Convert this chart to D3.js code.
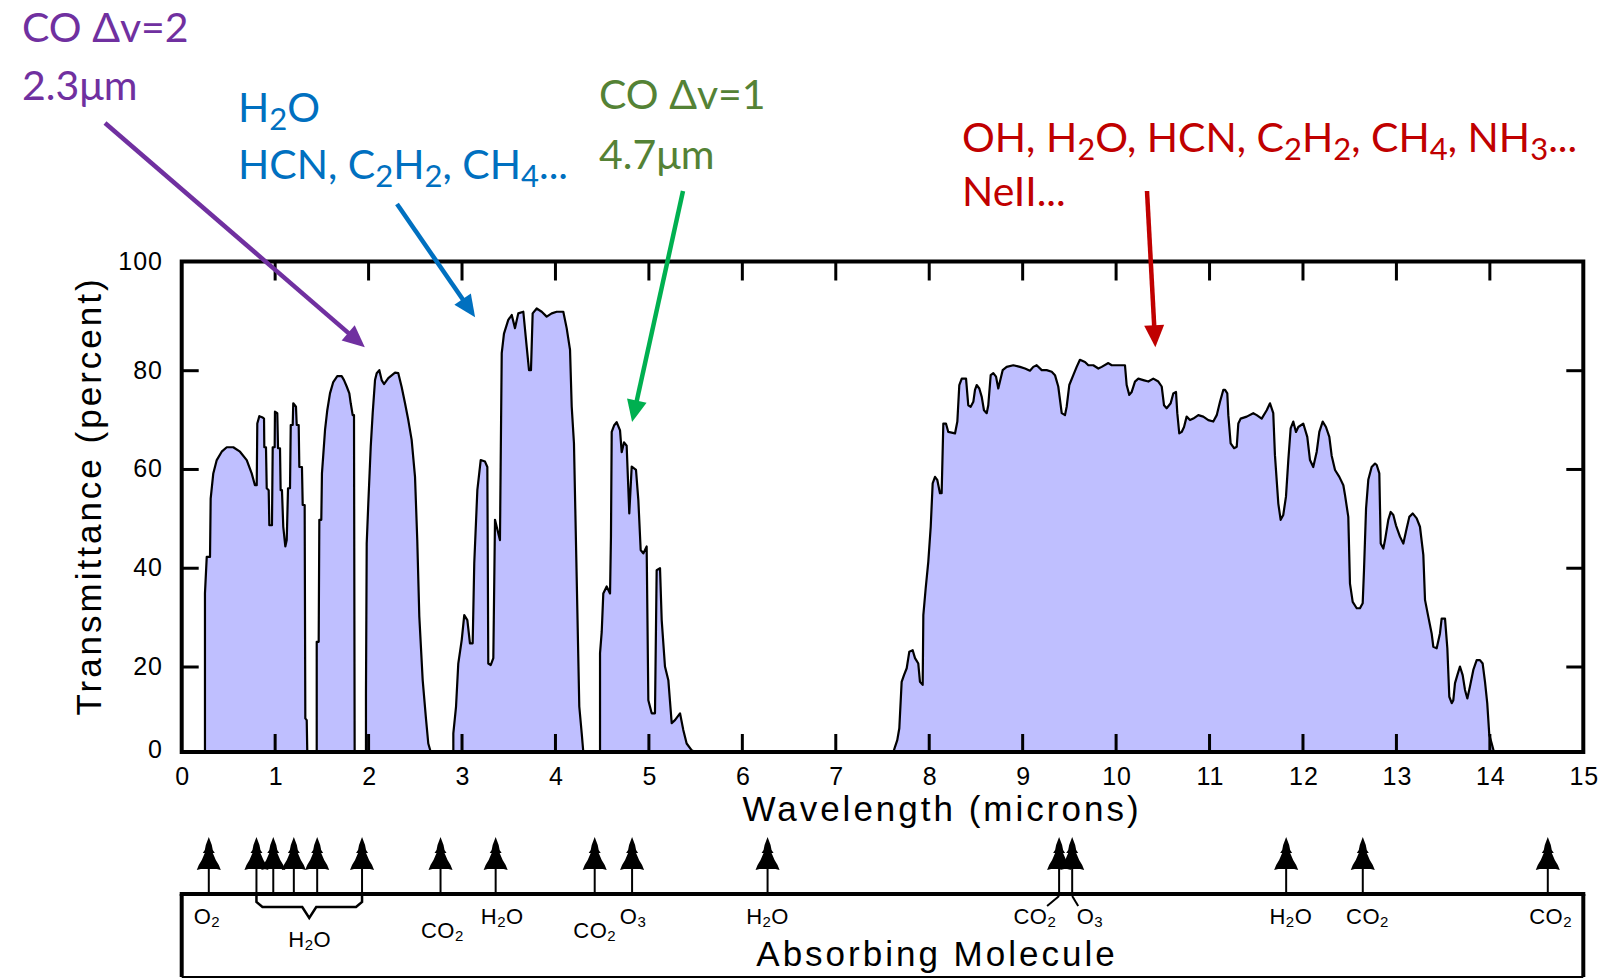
<!DOCTYPE html>
<html>
<head>
<meta charset="utf-8">
<title>Atmospheric transmittance, 0–15 µm</title>
<script src="https://cdn.jsdelivr.net/npm/d3@7/dist/d3.min.js"></script>
<style>
  html, body { margin: 0; padding: 0; background: #fff; }
  svg { display: block; }
</style>
</head>
<body>
<svg id="chart" width="1619" height="979"></svg>
<script>
// ---- Spectrum: wavelength (microns) and transmittance (percent) ----
const wavelength = [
  0,
  0.249, 0.249, 0.268, 0.303, 0.310, 0.338, 0.375, 0.428, 0.482, 0.552, 0.624, 0.696, 0.749, 0.784,
  0.803, 0.809, 0.831, 0.867, 0.881, 0.884, 0.902, 0.910, 0.931, 0.938, 0.966, 0.974, 0.995, 0.998,
  1.023, 1.031, 1.052, 1.059, 1.073, 1.087, 1.109, 1.124, 1.138, 1.159, 1.167, 1.188, 1.194, 1.223,
  1.231, 1.252, 1.259, 1.287, 1.295, 1.316, 1.323, 1.338, 1.344,
  1.445, 1.445, 1.466, 1.473, 1.494, 1.501, 1.515, 1.534, 1.558, 1.587, 1.622, 1.665, 1.712, 1.737,
  1.766, 1.794, 1.809, 1.830, 1.844, 1.851,
  1.972, 1.972, 1.980, 1.997, 2.023, 2.044, 2.069, 2.087, 2.115, 2.140, 2.165, 2.211, 2.283, 2.318,
  2.354, 2.390, 2.425, 2.461, 2.497, 2.521, 2.543, 2.579, 2.614, 2.639, 2.665,
  2.907, 2.907, 2.936, 2.960, 2.997, 3.024, 3.057, 3.085, 3.114, 3.131, 3.164, 3.200, 3.246, 3.271,
  3.281, 3.307, 3.335, 3.353, 3.388, 3.406, 3.425, 3.449, 3.495, 3.532, 3.567, 3.602, 3.656, 3.692,
  3.717, 3.738, 3.756, 3.799, 3.853, 3.906, 3.960, 4.013, 4.084, 4.120, 4.156, 4.174, 4.198, 4.227,
  4.255, 4.281, 4.298,
  4.477, 4.477, 4.495, 4.512, 4.548, 4.584, 4.594, 4.602, 4.627, 4.655, 4.691, 4.709, 4.734, 4.762,
  4.790, 4.816, 4.862, 4.887, 4.912, 4.940, 4.976, 4.994, 5.030, 5.065, 5.083, 5.119, 5.137, 5.172,
  5.208, 5.244, 5.279, 5.333, 5.368, 5.404, 5.458, 5.493,
  7.616, 7.634, 7.658, 7.680, 7.705, 7.730, 7.759, 7.787, 7.823, 7.848, 7.883, 7.901, 7.930, 7.937,
  7.962, 7.990, 8.016, 8.037, 8.062, 8.086, 8.115, 8.133, 8.151, 8.179, 8.204, 8.276, 8.301, 8.322,
  8.348, 8.394, 8.418, 8.444, 8.472, 8.490, 8.508, 8.536, 8.562, 8.586, 8.615, 8.632, 8.658, 8.686,
  8.715, 8.739, 8.757, 8.786, 8.829, 8.900, 8.971, 9.025, 9.078, 9.114, 9.150, 9.204, 9.257, 9.311,
  9.346, 9.381, 9.418, 9.453, 9.471, 9.499, 9.542, 9.578, 9.613, 9.667, 9.703, 9.756, 9.810, 9.846,
  9.917, 9.953, 10.024, 10.095, 10.113, 10.141, 10.167, 10.202, 10.238, 10.291, 10.345, 10.398,
  10.452, 10.488, 10.513, 10.541, 10.584, 10.612, 10.641, 10.655, 10.676, 10.702, 10.727, 10.755,
  10.791, 10.826, 10.880, 10.933, 10.987, 11.040, 11.077, 11.112, 11.147, 11.166, 11.190, 11.201,
  11.226, 11.262, 11.291, 11.308, 11.333, 11.398, 11.468, 11.505, 11.558, 11.612, 11.647, 11.682,
  11.700, 11.736, 11.761, 11.789, 11.818, 11.843, 11.868, 11.896, 11.925, 11.950, 12.003, 12.046,
  12.075, 12.110, 12.147, 12.175, 12.211, 12.246, 12.282, 12.307, 12.343, 12.389, 12.432, 12.450,
  12.485, 12.503, 12.532, 12.575, 12.610, 12.639, 12.653, 12.675, 12.699, 12.735, 12.771, 12.789,
  12.817, 12.832, 12.860, 12.878, 12.913, 12.939, 12.967, 12.995, 13.038, 13.074, 13.110, 13.138,
  13.174, 13.217, 13.252, 13.288, 13.306, 13.341, 13.377, 13.395, 13.431, 13.466, 13.484, 13.520,
  13.545, 13.566, 13.592, 13.609, 13.627, 13.652, 13.680, 13.709, 13.734, 13.759, 13.787, 13.823,
  13.859, 13.894, 13.923, 13.948, 13.972, 13.994, 14.020, 14.044,
  15
];
const transmittance = [
  0,
  0, 34.9, 42.3, 42.3, 54.1, 59.2, 61.9, 63.6, 64.5, 64.5, 63.6, 61.9, 59.2, 56.8,
  56.8, 69.3, 70.8, 70.5, 70.3, 64.5, 64.5, 56.2, 55.8, 48.7, 48.7, 64.5, 64.5, 71.7,
  71.4, 64.3, 64.3, 55.8, 55.8, 48.4, 44.4, 45.7, 56.2, 56.2, 69.0, 69.0, 73.4, 72.7,
  69.0, 69.0, 60.5, 60.5, 52.8, 52.8, 7.9, 7.5, 0,
  0, 25.1, 25.1, 49.8, 49.8, 59.2, 62.9, 68.0, 72.0, 75.4, 77.7, 78.9, 78.9, 78.1,
  76.8, 75.4, 73.4, 71.0, 71.0, 0,
  0, 13.8, 45.0, 53.1, 64.6, 71.4, 78.1, 79.5, 80.1, 78.1, 77.3, 78.5, 79.6, 79.5,
  76.7, 73.4, 70.0, 66.0, 58.5, 45.7, 30.2, 16.9, 7.9, 2.0, 0,
  0, 4.4, 10.7, 20.7, 25.5, 30.5, 29.5, 24.8, 24.8, 41.0, 55.8, 61.9, 61.6, 60.5,
  20.7, 20.4, 21.8, 49.8, 47.1, 45.7, 83.2, 86.8, 89.3, 90.2, 87.8, 90.5, 90.8, 84.4,
  80.1, 80.1, 90.5, 91.4, 90.8, 89.9, 90.5, 90.8, 90.8, 87.8, 83.8, 72.7, 65.3, 38.3,
  10.7, 4.4, 0,
  0, 22.8, 27.1, 34.9, 36.3, 34.9, 46.4, 67.6, 68.9, 69.6, 67.9, 63.5, 65.5, 64.8,
  51.1, 60.6, 59.9, 53.8, 43.7, 43.0, 44.4, 12.2, 9.1, 9.1, 39.6, 40.0, 29.5, 20.1,
  16.9, 6.8, 7.5, 9.1, 5.2, 2.0, 0.4, 0,
  0, 1.2, 2.8, 5.6, 16.5, 18.1, 19.7, 23.1, 23.4, 21.8, 20.7, 16.5, 15.8, 30.5,
  35.9, 41.3, 48.4, 57.2, 58.5, 57.9, 55.2, 55.2, 69.3, 69.3, 67.6, 67.3, 69.7, 77.1,
  78.4, 78.4, 73.0, 72.7, 73.7, 76.1, 77.1, 76.4, 74.7, 72.0, 71.4, 73.0, 79.1, 79.5,
  78.8, 76.4, 77.8, 80.1, 80.7, 81.0, 80.7, 80.4, 80.0, 80.7, 81.0, 80.1, 80.1, 79.8,
  79.1, 76.8, 71.4, 71.0, 72.7, 77.1, 79.1, 80.7, 82.0, 81.6, 81.0, 81.0, 80.4, 80.7,
  81.4, 81.0, 81.0, 81.0, 77.1, 75.1, 75.7, 77.8, 78.4, 78.1, 77.8, 78.4,
  77.8, 76.8, 73.0, 72.4, 73.4, 75.4, 75.7, 71.4, 67.3, 67.6, 68.6, 70.7,
  70.0, 70.3, 71.0, 70.7, 70.0, 69.7, 71.0, 73.7, 76.1, 76.1, 75.4, 71.0,
  65.3, 64.3, 64.6, 69.3, 70.3, 70.7, 71.4, 71.0, 70.3, 72.0, 73.4, 71.4,
  62.9, 53.1, 49.8, 50.8, 54.5, 61.9, 68.3, 69.7, 67.6, 68.6, 69.3, 66.6,
  61.9, 60.5, 63.6, 67.6, 69.7, 68.6, 66.6, 62.8, 59.9, 58.5, 56.8, 54.8,
  50.4, 36.9, 33.2, 31.9, 31.9, 32.9, 39.6, 52.1, 57.9, 60.5, 61.2, 60.9,
  59.2, 45.0, 44.0, 45.7, 49.8, 51.4, 50.8, 48.7, 46.4, 45.0, 48.1, 50.4,
  51.1, 50.1, 48.4, 42.7, 33.6, 30.2, 26.8, 24.1, 23.8, 26.8, 29.8, 29.8,
  23.8, 13.0, 11.5, 12.2, 16.2, 18.1, 20.1, 18.1, 14.6, 12.6, 15.4, 19.3,
  21.4, 21.4, 20.7, 16.5, 11.5, 4.0, 2.0, 0,
  0
];

// ---- Axis ticks ----
const xTickValues = d3.range(0, 16);
const yTickValues = [0, 20, 40, 60, 80, 100];

// ---- Absorbing molecules below the plot ----
const absorberWavelength = [0.29, 0.80, 0.98, 1.20, 1.45, 1.93, 2.77, 3.36, 4.42, 4.82,
                            6.27, 9.39, 9.53, 11.82, 12.64, 14.62];
const moleculeLabel   = ["O_2", "H_2O", "CO_2", "H_2O", "CO_2", "O_3", "H_2O", "CO_2", "O_3", "H_2O", "CO_2", "CO_2"];
const moleculeLabelAt = [0.27, 1.37, 2.79, 3.43, 4.42, 4.83, 6.27, 9.13, 9.72, 11.87, 12.69, 14.65];
const moleculeLabelRow = [0, 2, 1, 0, 1, 0, 0, 0, 0, 0, 0, 0];
const waterBandGroup = [0.80, 1.93];   // bands gathered under one H2O brace
const moleculeLeaders = [[9.39, -12], [9.53, 6]];

// ---- Band annotations (text, colour, arrow tip in data units) ----
const annotations = [
  { color: "#7030A0", arrowColor: "#7030A0", x: 22, lines: [["CO \u0394v=2", 41.7], ["2.3\u03bcm", 100]],
    from: [105, 123], tip: [1.96, 84.3] },
  { color: "#0070C0", arrowColor: "#0070C0", x: 238, lines: [["H_2O", 121.7], ["HCN, C_2H_2, CH_4...", 178.5]],
    from: [397, 204], tip: [3.14, 89.8] },
  { color: "#548235", arrowColor: "#00B050", x: 599, lines: [["CO \u0394v=1", 109], ["4.7\u03bcm", 168.5]],
    from: [683, 191], tip: [4.82, 69.6] },
  { color: "#C00000", arrowColor: "#C00000", x: 962, lines: [["OH, H_2O, HCN, C_2H_2, CH_4, NH_3...", 151.5], ["NeII...", 206]],
    from: [1147, 191], tip: [10.42, 84.3] }
];

// ---- Layout ----
const plot = { left: 181.7, right: 1583.3, top: 261.5, bottom: 752 };
const strip = { top: 894, bottom: 977, arrowTip: 837 };
const axisFont = "'Liberation Sans', Arial, sans-serif";
const noteFont = "Lato, 'Open Sans', sans-serif";

const svg = d3.select("#chart");

const x = d3.scaleLinear().domain([0, 15]).range([plot.left, plot.right]);
// The printed transmittance axis is not uniform: the 0–20 step is short and 80–100 is long.
const y = d3.scaleLinear().domain([0, 20, 80, 100]).range([plot.bottom, 667, 370.7, plot.top]);

const spectrum = wavelength.map((w, i) => ({ w, t: transmittance[i] }));

// filled transmittance curve
svg.append("path")
  .datum(spectrum)
  .attr("fill", "#BFBFFF")
  .attr("d", d3.area().x(d => x(d.w)).y0(y(0)).y1(d => y(d.t)));

svg.append("path")
  .datum(spectrum)
  .attr("fill", "none")
  .attr("stroke", "#000")
  .attr("stroke-width", 2.2)
  .attr("stroke-linejoin", "round")
  .attr("d", d3.line().x(d => x(d.w)).y(d => y(d.t)));

// frame
svg.append("rect")
  .attr("x", plot.left).attr("y", plot.top)
  .attr("width", plot.right - plot.left).attr("height", plot.bottom - plot.top)
  .attr("fill", "none").attr("stroke", "#000").attr("stroke-width", 4);

// inward ticks on all four sides
const ticks = svg.append("g").attr("stroke", "#000").attr("stroke-width", 3);
xTickValues.slice(1, -1).forEach(v => {
  ticks.append("line").attr("x1", x(v)).attr("x2", x(v)).attr("y1", plot.top).attr("y2", plot.top + 19);
  ticks.append("line").attr("x1", x(v)).attr("x2", x(v)).attr("y1", plot.bottom).attr("y2", plot.bottom - 18);
});
yTickValues.slice(1, -1).forEach(v => {
  ticks.append("line").attr("x1", plot.left).attr("x2", plot.left + 17).attr("y1", y(v)).attr("y2", y(v));
  ticks.append("line").attr("x1", plot.right).attr("x2", plot.right - 17).attr("y1", y(v)).attr("y2", y(v));
});

// tick labels
svg.append("g")
  .attr("font-family", axisFont).attr("font-size", 25).attr("letter-spacing", 1)
  .attr("text-anchor", "middle")
  .selectAll("text").data(xTickValues).join("text")
  .attr("x", d => x(d) + 1).attr("y", 785)
  .text(d => d);

svg.append("g")
  .attr("font-family", axisFont).attr("font-size", 25).attr("letter-spacing", 1)
  .attr("text-anchor", "end")
  .selectAll("text").data(yTickValues).join("text")
  .attr("x", 163).attr("y", d => Math.min(y(d), plot.bottom - 2) + 8)
  .text(d => d);

// axis titles
svg.append("text")
  .attr("font-family", axisFont).attr("font-size", 35).attr("letter-spacing", 3)
  .attr("text-anchor", "middle")
  .attr("x", 942).attr("y", 821)
  .text("Wavelength (microns)");

svg.append("text")
  .attr("font-family", axisFont).attr("font-size", 35).attr("letter-spacing", 3)
  .attr("text-anchor", "middle")
  .attr("transform", "translate(101,496) rotate(-90)")
  .text("Transmittance (percent)");

// ---- Absorbing-molecule strip ----
const stripG = svg.append("g");
stripG.append("line").attr("x1", plot.left - 2).attr("x2", plot.right + 2)
  .attr("y1", strip.top).attr("y2", strip.top).attr("stroke", "#000").attr("stroke-width", 4);
stripG.append("line").attr("x1", plot.left).attr("x2", plot.left)
  .attr("y1", strip.top).attr("y2", strip.bottom).attr("stroke", "#000").attr("stroke-width", 4);
stripG.append("line").attr("x1", plot.right).attr("x2", plot.right)
  .attr("y1", strip.top).attr("y2", strip.bottom).attr("stroke", "#000").attr("stroke-width", 4);
stripG.append("line").attr("x1", plot.left).attr("x2", plot.right)
  .attr("y1", strip.bottom).attr("y2", strip.bottom).attr("stroke", "#000").attr("stroke-width", 2);

// stepped arrow head, tip at origin
const headPath = "M0,0 L3,8 L4,13 L6,16 L4,16 L7,23 L10,28 L12,33 L8,32 L1,32 L-1,32 L-8,32 L-12,33 L-10,28 L-7,23 L-4,16 L-6,16 L-4,13 L-3,8 Z";

const absorbers = stripG.selectAll("g.absorber").data(absorberWavelength).join("g")
  .attr("class", "absorber")
  .attr("transform", d => `translate(${x(d)},${strip.arrowTip})`);
absorbers.append("line").attr("x1", 0).attr("x2", 0).attr("y1", 30).attr("y2", strip.top - strip.arrowTip)
  .attr("stroke", "#000").attr("stroke-width", 2);
absorbers.append("path").attr("d", headPath).attr("fill", "#000");

// brace under the grouped water bands
const bx0 = x(waterBandGroup[0]), bx1 = x(waterBandGroup[1]), bxm = (bx0 + bx1) / 2;
stripG.append("path")
  .attr("d", `M${bx0},${strip.top} L${bx0},${strip.top + 8} L${bx0 + 6},${strip.top + 13}
              L${bxm - 7},${strip.top + 13} L${bxm},${strip.top + 24} L${bxm + 7},${strip.top + 13}
              L${bx1 - 6},${strip.top + 13} L${bx1},${strip.top + 8} L${bx1},${strip.top}`)
  .attr("fill", "none").attr("stroke", "#000").attr("stroke-width", 2.5);

// short leaders to the CO2 / O3 labels near 9.5 µm
moleculeLeaders.forEach(([w, dx]) => {
  stripG.append("line").attr("x1", x(w)).attr("y1", strip.top + 2)
    .attr("x2", x(w) + dx).attr("y2", strip.top + 12)
    .attr("stroke", "#000").attr("stroke-width", 2);
});

// text with "_n" marking a subscript digit
function richText(sel, str, subScale, subDy) {
  let shift = 0;
  str.split(/_(\d)/).forEach((part, i) => {
    if (!part) return;
    const isSub = i % 2 === 1;
    const target = isSub ? subDy : 0;
    const ts = sel.append("tspan").text(part).attr("dy", target - shift);
    if (isSub) ts.attr("font-size", subScale);
    shift = target;
  });
}

const rowBaseline = [strip.top + 30, strip.top + 44, strip.top + 53];
moleculeLabel.forEach((lab, i) => {
  const t = stripG.append("text")
    .attr("font-family", axisFont).attr("font-size", 22).attr("letter-spacing", 0.5)
    .attr("text-anchor", "middle")
    .attr("x", x(moleculeLabelAt[i])).attr("y", rowBaseline[moleculeLabelRow[i]]);
  richText(t, lab, 15, 3);
});

stripG.append("text")
  .attr("font-family", axisFont).attr("font-size", 35).attr("letter-spacing", 3)
  .attr("text-anchor", "middle")
  .attr("x", 937).attr("y", 966)
  .text("Absorbing Molecule");

// ---- Coloured band annotations ----
annotations.forEach(a => {
  const g = svg.append("g");
  a.lines.forEach(([str, base]) => {
    const t = g.append("text")
      .attr("font-family", noteFont).attr("font-size", 41).attr("fill", a.color)
      .attr("x", a.x).attr("y", base);
    richText(t, str, 31, 8);
  });
  const [sx, sy] = a.from;
  const tx = x(a.tip[0]), ty = y(a.tip[1]);
  const len = Math.hypot(tx - sx, ty - sy);
  const ux = (tx - sx) / len, uy = (ty - sy) / len;
  const headLen = 22, headHalf = 10;
  const bx = tx - ux * headLen, by = ty - uy * headLen;
  g.append("line")
    .attr("x1", sx).attr("y1", sy).attr("x2", bx + ux * 2).attr("y2", by + uy * 2)
    .attr("stroke", a.arrowColor).attr("stroke-width", 4.5);
  g.append("path")
    .attr("d", `M${tx},${ty} L${bx - uy * headHalf},${by + ux * headHalf} L${bx + uy * headHalf},${by - ux * headHalf} Z`)
    .attr("fill", a.arrowColor);
});
</script>
</body>
</html>
